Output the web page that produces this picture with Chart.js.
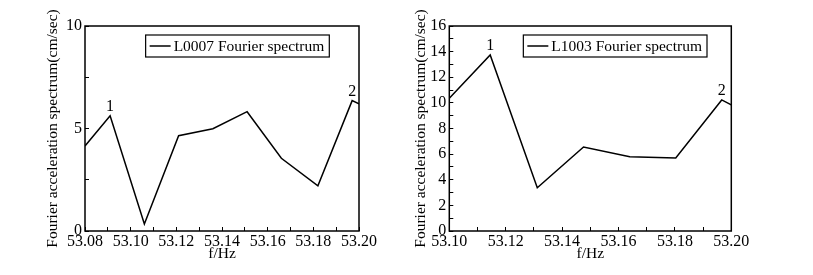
<!DOCTYPE html>
<html><head><meta charset="utf-8">
<script src="https://cdn.jsdelivr.net/npm/chart.js@4/dist/chart.umd.min.js"></script>
<style>
html,body{margin:0;padding:0;background:#fff;}
#wrap{position:relative;width:813px;height:275px;background:#fff;}
canvas{position:absolute;top:0;}
.warm{position:absolute;left:-9999px;top:0;font-family:"Liberation Serif","Times New Roman",serif;font-size:16px;}
</style></head><body>
<div class="warm">Fourier 53.08 <i>f</i>/Hz</div>
<div id="wrap">
<canvas id="c1" width="406" height="275" style="left:0"></canvas>
<canvas id="c2" width="407" height="275" style="left:406px"></canvas>
</div>
<script>
// ---- data ----
const leftFreq  = [53.08, 53.091, 53.106, 53.121, 53.136, 53.151, 53.166, 53.182, 53.197, 53.20];
const leftAmp   = [4.15, 5.62, 0.34, 4.65, 4.99, 5.82, 3.55, 2.20, 6.36, 6.20];
const leftLabel = 'L0007 Fourier spectrum';
const leftPeaks = [[1, '1'], [8, '2']];

const rightFreq  = [53.10, 53.1145, 53.1312, 53.1476, 53.164, 53.1803, 53.1966, 53.20];
const rightAmp   = [10.36, 13.74, 3.38, 6.56, 5.80, 5.70, 10.23, 9.84];
const rightLabel = 'L1003 Fourier spectrum';
const rightPeaks = [[1, '1'], [6, '2']];

const yTitle = 'Fourier acceleration spectrum(cm/sec)';
const xTitle = 'f/Hz';

const SERIF = '"Liberation Serif", "Times New Roman", Tinos, serif';

const decorPlugin = {
  id: 'decor',
  afterDatasetsDraw(chart, args, opts) {
    const ctx = chart.ctx;
    const a = chart.chartArea;
    ctx.save();
    ctx.strokeStyle = '#000';
    ctx.lineWidth = 1.5;
    ctx.strokeRect(a.left, a.top, a.right - a.left, a.bottom - a.top);
    const meta = chart.getDatasetMeta(0);
    ctx.fillStyle = '#000';
    ctx.font = '16px ' + SERIF;
    ctx.textAlign = 'center';
    ctx.textBaseline = 'bottom';
    (opts.peaks || []).forEach(([i, t]) => {
      const p = meta.data[i];
      ctx.fillText(t, p.x, p.y - 1);
    });
    const label = chart.data.datasets[0].label;
    ctx.font = '15.5px ' + SERIF;
    const tw = ctx.measureText(label).width;
    const bw = tw + 33, bh = 22;
    const bx = a.right - opts.legendRight - bw;
    const by = a.top + 9;
    ctx.lineWidth = 1.2;
    ctx.strokeRect(bx, by, bw, bh);
    ctx.lineWidth = 1.5;
    ctx.beginPath();
    ctx.moveTo(bx + 4, by + bh / 2);
    ctx.lineTo(bx + 25, by + bh / 2);
    ctx.stroke();
    ctx.textAlign = 'left';
    ctx.textBaseline = 'middle';
    ctx.fillText(label, bx + 28, by + bh / 2 + 0.5);
    ctx.restore();
  }
};

function makeChart(id, freq, amp, label, peaks, cfg) {
  const pts = freq.map((f, i) => ({x: f, y: amp[i]}));
  return new Chart(document.getElementById(id), {
    type: 'line',
    data: { datasets: [{ label: label, data: pts, borderColor: '#000', borderWidth: 1.5,
      pointRadius: 0, tension: 0, fill: false }] },
    options: {
      responsive: false, animation: false, devicePixelRatio: 1,
      layout: { padding: { top: 26, right: cfg.padRight, left: 0, bottom: 0 } },
      plugins: { legend: { display: false }, tooltip: { enabled: false },
        decor: { peaks: peaks, legendRight: cfg.legendRight } },
      scales: {
        x: {
          type: 'linear', min: cfg.xmin, max: cfg.xmax,
          afterFit: s => { s.height = 44; },
          border: { display: false },
          grid: { drawOnChartArea: false, drawTicks: true, tickLength: -4, color: '#000', lineWidth: 1 },
          ticks: { stepSize: 0.01, padding: 5.5, color: '#000', font: { family: SERIF, size: 16 },
            maxRotation: 0, autoSkip: false,
            callback: v => (Math.round(v * 100) % 2 === 0) ? v.toFixed(2) : '' },
          title: { display: true, text: xTitle, color: '#000', font: { family: SERIF, size: 15.5 },
            padding: { top: 0, bottom: 11.5 } }
        },
        y: {
          min: 0, max: cfg.ymax,
          afterFit: s => { s.width = cfg.yWidth; },
          border: { display: false },
          grid: { drawOnChartArea: false, drawTicks: true, tickLength: -4, color: '#000', lineWidth: 1 },
          ticks: { stepSize: cfg.yStep, padding: 7, color: '#000', font: { family: SERIF, size: 16 },
            autoSkip: false,
            callback: v => (Math.abs(v / cfg.yLabelStep - Math.round(v / cfg.yLabelStep)) < 1e-6) ? String(v) : '' },
          title: { display: true, text: yTitle, color: '#000', font: { family: SERIF, size: 15.5 },
            padding: { top: cfg.yTitlePad, bottom: 0 } }
        }
      }
    },
    plugins: [decorPlugin]
  });
}

function draw() {
  makeChart('c1', leftFreq, leftAmp, leftLabel, leftPeaks,
    { xmin: 53.08, xmax: 53.20, ymax: 10, yStep: 2.5, yLabelStep: 5, yWidth: 85, padRight: 47,
      legendRight: 29.7, yTitlePad: 44 });
  makeChart('c2', rightFreq, rightAmp, rightLabel, rightPeaks,
    { xmin: 53.10, xmax: 53.20, ymax: 16, yStep: 1, yLabelStep: 2, yWidth: 43.3, padRight: 81.7,
      legendRight: 24.3, yTitlePad: 5.7 });
}
if (document.fonts && document.fonts.load) {
  Promise.all([document.fonts.load('16px "Liberation Serif"'), document.fonts.ready]).then(draw, draw);
} else { draw(); }
</script>
</body></html>
